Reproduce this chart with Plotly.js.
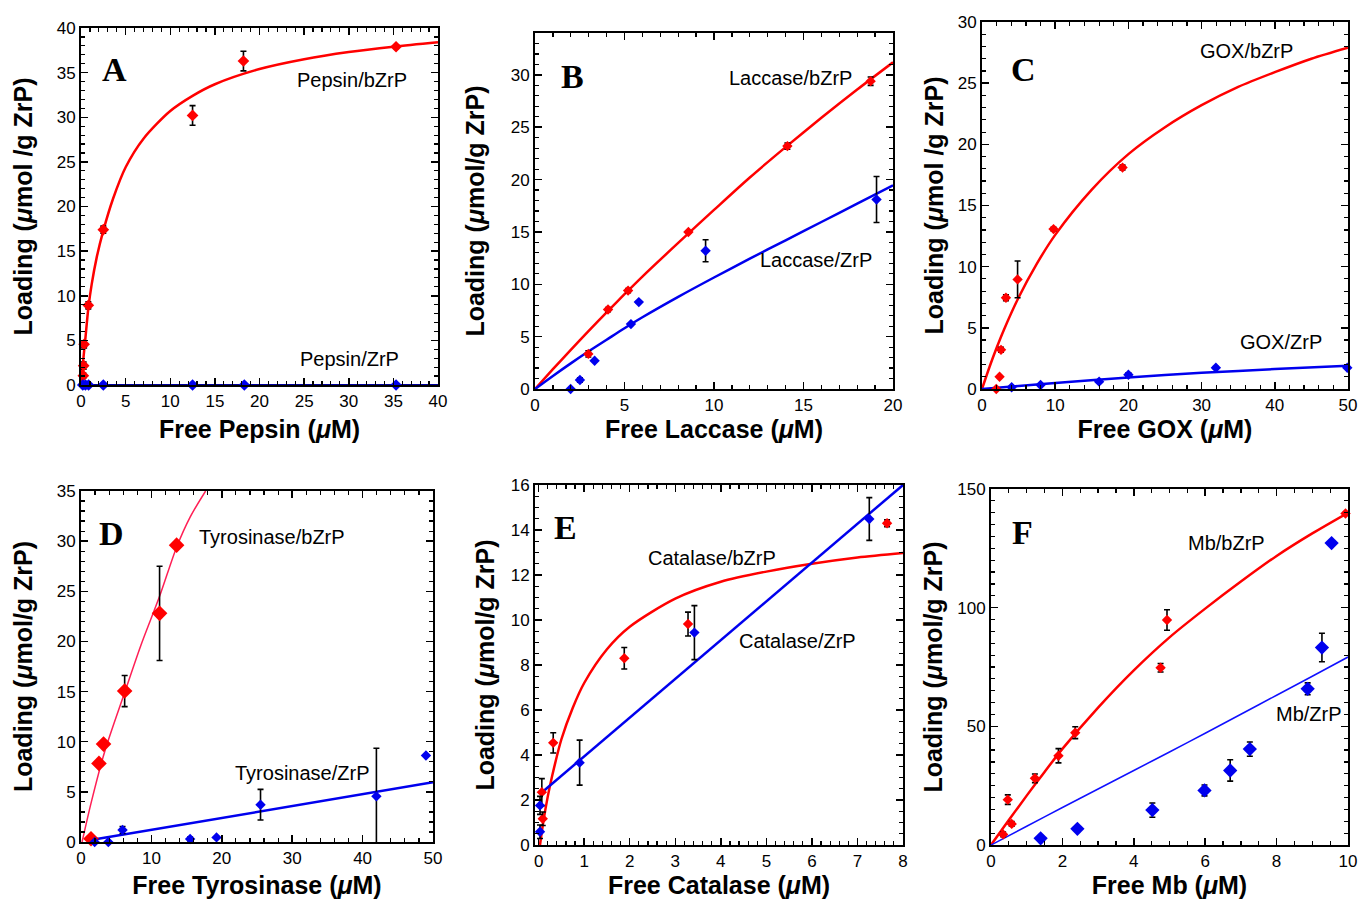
<!DOCTYPE html>
<html>
<head>
<meta charset="utf-8">
<script src="https://cdn.plot.ly/plotly-3.0.1.min.js"></script>
<style>html,body{margin:0;padding:0;background:#fff;}#chart{width:1359px;height:899px;}</style>
</head>
<body>
<div id="chart"></div>
<script>
// ---------- Panel A: Pepsin ----------
const pepsinBzrpX = [0.26, 0.3, 0.35, 0.82, 2.5, 12.5, 18.2, 35.3];
const pepsinBzrpY = [1.05, 2.17, 4.56, 8.93, 17.4, 30.2, 36.3, 37.9];
const pepsinBzrpErr = [0.3, 0.4, 0.4, 0.4, 0.4, 1.1, 1.1, 0.2];
const pepsinZrpX = [0.2, 0.5, 0.85, 2.5, 12.5, 18.3, 35.3];
const pepsinZrpY = [0, 0, 0, 0, 0, 0, 0];
const pepsinFitBX = [0, 0.25, 0.5, 0.82, 1.2, 1.76, 2.5, 3.6, 5, 7, 10, 12.5, 15, 20, 25, 30, 35, 40];
const pepsinFitBY = [0, 2.8, 5.3, 8.6, 11.3, 14.3, 17.3, 20.9, 24.4, 27.6, 30.7, 32.4, 33.7, 35.4, 36.5, 37.3, 37.9, 38.4];
const pepsinFitZX = [0, 40];
const pepsinFitZY = [0, 0];

// ---------- Panel B: Laccase ----------
const laccaseBzrpX = [2.98, 4.08, 5.2, 8.57, 14.1, 18.75];
const laccaseBzrpY = [3.35, 7.59, 9.4, 15.0, 23.2, 29.4];
const laccaseBzrpErr = [0.3, 0.2, 0.2, 0.1, 0.3, 0.4];
const laccaseZrpX = [1.99, 2.51, 3.33, 5.36, 5.8, 9.53, 19.08];
const laccaseZrpY = [0, 0.86, 2.7, 6.2, 8.3, 13.2, 18.1];
const laccaseZrpErr = [0, 0.2, 0, 0, 0.1, 1.05, 2.2];
const laccaseFitBX = [0, 1, 2, 3, 4, 5, 6, 8, 10, 12, 14, 16, 18, 20];
const laccaseFitBY = [0, 1.89, 3.74, 5.55, 7.32, 9.05, 10.74, 13.95, 17.1, 20.2, 23.1, 25.9, 28.6, 31.2];
const laccaseFitZX = [0, 1, 2, 3, 4, 5, 6, 8, 10, 12, 14, 16, 18, 20];
const laccaseFitZY = [0, 1.25, 2.45, 3.6, 4.7, 5.8, 6.85, 8.8, 10.65, 12.45, 14.2, 15.95, 17.7, 19.45];

// ---------- Panel C: GOX ----------
const goxBzrpX = [1.95, 2.4, 2.6, 3.27, 4.86, 9.77, 19.2];
const goxBzrpY = [0, 1.0, 3.2, 7.46, 8.96, 13.07, 18.1];
const goxBzrpErr = [0, 0, 0.2, 0.25, 1.5, 0.15, 0.2];
const goxZrpX = [4.05, 8.0, 16, 20, 31.95, 49.9];
const goxZrpY = [0.14, 0.33, 0.6, 1.17, 1.74, 1.74];
const goxZrpErr = [0, 0, 0, 0.15, 0.1, 0];
const goxFitBX = [0, 1, 2, 3, 5, 7.5, 10, 15, 20, 25, 30, 35, 40, 45, 50];
const goxFitBY = [0, 1.76, 3.37, 4.85, 7.48, 10.25, 12.6, 16.3, 19.2, 21.4, 23.2, 24.7, 25.9, 27.0, 27.9];
const goxFitZX = [0, 5, 10, 20, 30, 40, 50];
const goxFitZY = [0, 0.25, 0.5, 0.95, 1.32, 1.63, 1.9];

// ---------- Panel D: Tyrosinase ----------
const tyrBzrpX = [1.42, 2.55, 3.2, 6.2, 11.16, 13.58];
const tyrBzrpY = [0.33, 7.84, 9.76, 15.05, 22.8, 29.6];
const tyrBzrpErr = [0.2, 0.3, 0, 1.55, 4.7, 0];
const tyrZrpX = [1.94, 3.88, 5.9, 15.5, 19.25, 25.5, 41.96, 49.0];
const tyrZrpY = [0, 0, 1.2, 0.3, 0.46, 3.72, 4.55, 8.63];
const tyrZrpErr = [0, 0, 0.35, 0.2, 0, 1.53, 4.8, 0];
const tyrFitBX = [0.15, 1.47, 3.36, 6.2, 8.5, 11.16, 13.58, 15.5, 17.7];
const tyrFitBY = [0, 4.0, 9.0, 14.9, 19.6, 24.5, 29.4, 32.4, 35];
const tyrFitZX = [1.4, 50];
const tyrFitZY = [0.2, 5.95];

// ---------- Panel E: Catalase ----------
const catBzrpX = [0.09, 0.07, 0.32, 1.88, 3.28, 7.65];
const catBzrpY = [1.17, 2.35, 4.54, 8.3, 9.82, 14.3];
const catBzrpErr = [0.3, 0.6, 0.45, 0.48, 0.53, 0.15];
const catZrpX = [0.03, 0.03, 0.9, 3.42, 7.26];
const catZrpY = [0.59, 1.76, 3.66, 9.44, 14.49];
const catZrpErr = [0.3, 0.4, 1.0, 1.2, 0.95];
const catFitBX = [0.03, 0.1, 0.2, 0.3, 0.5, 0.75, 1, 1.5, 2, 3, 4, 5, 6, 7, 8];
const catFitBY = [0, 1.0, 2.15, 3.1, 4.7, 6.1, 7.2, 8.7, 9.7, 10.95, 11.7, 12.15, 12.5, 12.78, 12.98];
const catFitZX = [0.05, 8];
const catFitZY = [2.3, 16];

// ---------- Panel F: Mb ----------
const mbBzrpX = [0.34, 0.47, 0.58, 1.23, 1.89, 2.36, 4.75, 4.93, 9.93];
const mbBzrpY = [4.47, 19.1, 8.9, 28.1, 37.6, 47.3, 74.7, 94.8, 139.7];
const mbBzrpErr = [1, 2, 1, 1.8, 3, 2.5, 1.8, 4.3, 0];
const mbZrpX = [1.39, 2.42, 4.52, 5.98, 6.7, 7.25, 8.87, 9.27, 9.54];
const mbZrpY = [2.8, 6.8, 14.7, 23.0, 31.4, 40.4, 65.8, 83.2, 127.2];
const mbZrpErr = [0, 0, 3, 2.3, 4.5, 3, 2.5, 6, 0];
const mbFitBX = [0, 0.5, 1, 1.5, 2, 3, 4, 5, 6, 7, 8, 9, 10];
const mbFitBY = [0, 10.5, 20.8, 30.8, 40.5, 57.9, 73.6, 87.5, 99.6, 111, 121.8, 131.3, 140];
const mbFitZX = [0, 1, 2, 3, 4, 5, 6, 7, 8, 9, 10];
const mbFitZY = [0, 7.9, 15.8, 23.6, 31.4, 39.2, 47.1, 55.1, 63.1, 71.1, 79.2];

// ---------- Labels ----------
const panelLetters = ['A', 'B', 'C', 'D', 'E', 'F'];
const xTitles = ['Free Pepsin', 'Free Laccase', 'Free GOX', 'Free Tyrosinase', 'Free Catalase', 'Free Mb'];
const yTitles = ['Loading (<i>μ</i>mol /g ZrP)', 'Loading (<i>μ</i>mol/g ZrP)', 'Loading (<i>μ</i>mol /g ZrP)',
                 'Loading (<i>μ</i>mol/g ZrP)', 'Loading (<i>μ</i>mol/g ZrP)', 'Loading (<i>μ</i>mol/g ZrP)'];
const seriesLabels = [
  ['Pepsin/bZrP', 'Pepsin/ZrP'],
  ['Laccase/bZrP', 'Laccase/ZrP'],
  ['GOX/bZrP', 'GOX/ZrP'],
  ['Tyrosinase/bZrP', 'Tyrosinase/ZrP'],
  ['Catalase/bZrP', 'Catalase/ZrP'],
  ['Mb/bZrP', 'Mb/ZrP']
];

const RED = '#ff0000', BLUE = '#0000ee';
const traces = [];
function fit(x, y, color, width, n) {
  traces.push({x: x, y: y, type: 'scatter', mode: 'lines', line: {color: color, width: width, shape: 'spline', smoothing: 0.8},
    xaxis: 'x' + (n > 1 ? n : ''), yaxis: 'y' + (n > 1 ? n : ''), hoverinfo: 'skip', cliponaxis: true});
}
function pts(x, y, err, color, size, n) {
  const t = {x: x, y: y, type: 'scatter', mode: 'markers', marker: {symbol: 'diamond', color: color, size: size, line: {width: 0}},
    xaxis: 'x' + (n > 1 ? n : ''), yaxis: 'y' + (n > 1 ? n : ''), hoverinfo: 'skip', cliponaxis: false};
  if (err) t.error_y = {type: 'data', array: err, visible: true, color: '#000', thickness: 1.6, width: 3};
  traces.push(t);
}

// A
fit(pepsinFitZX, pepsinFitZY, '#000099', 2, 1);
fit(pepsinFitBX, pepsinFitBY, RED, 2.5, 1);
pts(pepsinBzrpX, pepsinBzrpY, pepsinBzrpErr, RED, 9, 1);
pts(pepsinZrpX, pepsinZrpY, null, BLUE, 9, 1);
// B
fit(laccaseFitBX, laccaseFitBY, RED, 2.5, 2);
fit(laccaseFitZX, laccaseFitZY, BLUE, 2.5, 2);
pts(laccaseBzrpX, laccaseBzrpY, laccaseBzrpErr, RED, 8, 2);
pts(laccaseZrpX, laccaseZrpY, laccaseZrpErr, BLUE, 8, 2);
// C
fit(goxFitBX, goxFitBY, RED, 2.5, 3);
fit(goxFitZX, goxFitZY, BLUE, 2.5, 3);
pts(goxBzrpX, goxBzrpY, goxBzrpErr, RED, 8, 3);
pts(goxZrpX, goxZrpY, goxZrpErr, BLUE, 8, 3);
// D
fit(tyrFitBX, tyrFitBY, '#ff1f55', 1.5, 4);
fit(tyrFitZX, tyrFitZY, BLUE, 2.5, 4);
pts(tyrBzrpX, tyrBzrpY, tyrBzrpErr, RED, 12, 4);
pts(tyrZrpX, tyrZrpY, tyrZrpErr, BLUE, 8, 4);
// E
fit(catFitBX, catFitBY, RED, 2.5, 5);
fit(catFitZX, catFitZY, BLUE, 2.5, 5);
pts(catBzrpX, catBzrpY, catBzrpErr, RED, 8, 5);
pts(catZrpX, catZrpY, catZrpErr, BLUE, 8, 5);
// F
fit(mbFitBX, mbFitBY, RED, 2.5, 6);
fit(mbFitZX, mbFitZY, '#1010ff', 1.5, 6);
pts(mbBzrpX, mbBzrpY, mbBzrpErr, RED, 8, 6);
pts(mbZrpX, mbZrpY, mbZrpErr, BLUE, 11, 6);

// ---------- Layout ----------
const W = 1359, H = 899;
// pixel boxes [left, right, top, bottom]
const boxes = [[81, 438, 28, 385], [535, 893, 33, 389], [982, 1348, 22, 389],
               [81, 433, 491, 842], [535, 903, 485, 845], [991, 1348, 489, 845]];
const xRanges = [[0, 40], [0, 20], [0, 50], [0, 50], [-0.08, 8], [0, 10]];
const yRanges = [[0, 40], [0, 34], [0, 30], [0, 35], [0, 16], [0, 150]];
const xDt = [5, 5, 10, 10, 1, 2], xMinor = [1, 1, 2, 2, 0.2, 0.5];
const yDt = [5, 5, 5, 5, 2, 50], yMinor = [1, 1, 1, 1, 0.5, 5];
const xStand = [10, 4, 4, 10, 4, 4];
const yStand = [17, 19, 7, 17, 9, 7];

const FONT = 'Liberation Sans, Arial, Helvetica, sans-serif';
const layout = {
  width: W, height: H, margin: {l: 0, r: 0, t: 0, b: 0}, paper_bgcolor: '#fff', plot_bgcolor: '#fff',
  showlegend: false, hovermode: false, font: {family: FONT, color: '#000'}, annotations: []
};
function axisBase() {
  return {showline: true, linewidth: 2, linecolor: '#000', mirror: 'ticks', ticks: 'inside', ticklen: 7, tickwidth: 1.5,
    tickcolor: '#000', showgrid: false, zeroline: false, fixedrange: true, automargin: false, ticklabeloverflow: 'allow',
    tickfont: {family: FONT, size: 17, color: '#000'}};
}
for (let i = 0; i < 6; i++) {
  const n = i + 1, s = n > 1 ? n : '';
  const b = boxes[i];
  const xa = axisBase(), ya = axisBase();
  xa.domain = [b[0] / W, b[1] / W];
  ya.domain = [1 - b[3] / H, 1 - b[2] / H];
  xa.range = xRanges[i]; ya.range = yRanges[i];
  xa.tick0 = 0; xa.dtick = xDt[i]; ya.tick0 = 0; ya.dtick = yDt[i];
  xa.minor = {ticks: 'inside', ticklen: 4, tickwidth: 1.2, tickcolor: '#000', dtick: xMinor[i], tick0: 0, showgrid: false};
  ya.minor = {ticks: 'inside', ticklen: 4, tickwidth: 1.2, tickcolor: '#000', dtick: yMinor[i], tick0: 0, showgrid: false};
  xa.anchor = 'y' + s; ya.anchor = 'x' + s;
  xa.title = {text: '<b>' + xTitles[i] + ' (<i>μ</i>M)</b>', font: {family: FONT, size: 25, color: '#000'}, standoff: xStand[i]};
  ya.title = {text: '<b>' + yTitles[i] + '</b>', font: {family: FONT, size: 25, color: '#000'}, standoff: yStand[i]};
  layout['xaxis' + s] = xa;
  layout['yaxis' + s] = ya;
}

// annotation positions (data coords)
const letterPos = [[3.8, 35.3], [2.07, 29.8], [5.7, 26.1], [4.3, 30.8], [0.6, 14.1], [0.89, 131.5]];
const labelPos = [
  [[30.4, 34.2], [30.1, 2.9]],
  [[14.25, 29.7], [15.7, 12.3]],
  [[36.1, 27.6], [40.8, 3.85]],
  [[27.1, 30.4], [31.4, 6.9]],
  [[3.8, 12.74], [5.69, 9.08]],
  [[6.6, 127.4], [8.91, 55.3]]
];
for (let i = 0; i < 6; i++) {
  const s = i > 0 ? (i + 1) : '';
  layout.annotations.push({text: '<b>' + panelLetters[i] + '</b>', x: letterPos[i][0], y: letterPos[i][1], xref: 'x' + s, yref: 'y' + s,
    showarrow: false, font: {family: 'Liberation Serif, Times New Roman, serif', size: 34, color: '#000'}});
  for (let j = 0; j < 2; j++) {
    layout.annotations.push({text: seriesLabels[i][j], x: labelPos[i][j][0], y: labelPos[i][j][1], xref: 'x' + s, yref: 'y' + s,
      showarrow: false, font: {family: FONT, size: 20, color: '#000'}});
  }
}

Plotly.newPlot('chart', traces, layout, {staticPlot: true, displayModeBar: false});
</script>
</body>
</html>
